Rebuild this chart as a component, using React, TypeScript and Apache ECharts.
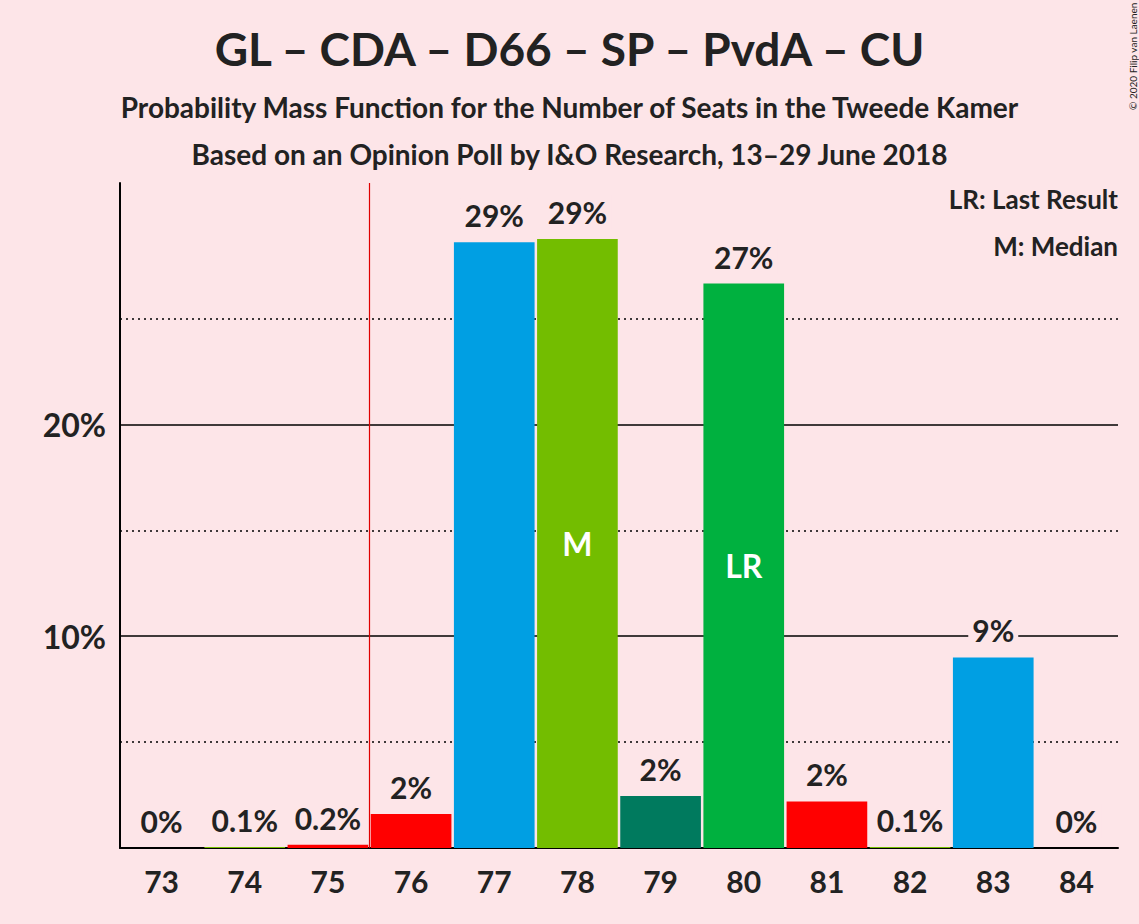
import React, { useEffect, useRef } from "react";
import * as echarts from "echarts";

const categories = ["73","74","75","76","77","78","79","80","81","82","83","84"];
const values = [0, 0.05, 0.15, 1.6, 28.6, 28.75, 2.45, 26.65, 2.2, 0.05, 9.0, 0];
const valueLabels = ["0%","0.1%","0.2%","2%","29%","29%","2%","27%","2%","0.1%","9%","0%"];
const colors = ["#009FE3","#73BD00","#FF0000","#FF0000","#009FE3","#73BD00","#007A5E","#00B13F","#FF0000","#73BD00","#009FE3","#009FE3"];
const innerLabels = ["","","","","","M","","LR","","","",""];
const majorLines = [10, 20];
const minorLines = [5, 15, 25];
const lastResultBoundary = 75.5;

export default function App() {
  const ref = useRef<HTMLDivElement>(null);
  useEffect(() => {
    const chart = echarts.init(ref.current!, null, { renderer: "svg" });
    const font = "Lato, 'Open Sans', sans-serif";
    chart.setOption({
      animation: false,
      backgroundColor: "#FDE5E8",
      textStyle: { fontFamily: font },
      title: [
        { text: "GL – CDA – D66 – SP – PvdA – CU", left: "center", top: 20, textStyle: { fontSize: 46, fontWeight: "bold", color: "#222", fontFamily: font } },
        { text: "Probability Mass Function for the Number of Seats in the Tweede Kamer", left: "center", top: 88, textStyle: { fontSize: 28, fontWeight: "bold", color: "#222", fontFamily: font } },
        { text: "Based on an Opinion Poll by I&O Research, 13–29 June 2018", left: "center", top: 135, textStyle: { fontSize: 28, fontWeight: "bold", color: "#222", fontFamily: font } },
      ],
      graphic: [
        { type: "text", right: 21, top: 186, style: { text: "LR: Last Result", font: `bold 26px ${font}`, fill: "#222" } },
        { type: "text", right: 21, top: 233, style: { text: "M: Median", font: `bold 26px ${font}`, fill: "#222" } },
        { type: "text", x: 1128, y: 110, rotation: Math.PI / 2, style: { text: "© 2020 Filip van Laenen", font: `10px ${font}`, fill: "#222" } },
      ],
      grid: { left: 120, right: 21, top: 183, bottom: 76 },
      xAxis: [
        { type: "category", data: categories, axisTick: { show: false },
          axisLine: { lineStyle: { color: "#000", width: 2 } },
          axisLabel: { fontSize: 30, fontWeight: "bold", color: "#222", margin: 18 } },
        { type: "value", min: 72.5, max: 84.5, show: false },
      ],
      yAxis: { type: "value", min: 0, max: 31.4, interval: 5, splitLine: { show: false },
        axisLine: { show: true, lineStyle: { color: "#000", width: 2 } }, axisTick: { show: false },
        axisLabel: { fontSize: 32, fontWeight: "bold", color: "#222", margin: 14,
          formatter: (v: number) => (majorLines.includes(v) ? v + "%" : "") } },
      series: [
        {
          type: "bar", barCategoryGap: "3%", z: 3,
          data: values.map((v, i) => ({ value: v, itemStyle: { color: colors[i] },
            label: innerLabels[i] ? { show: true, position: "inside", formatter: innerLabels[i], fontSize: 32, fontWeight: "bold", color: "#fff" } : { show: false } })),
          markLine: { silent: true, symbol: "none", label: { show: false }, z: 1,
            data: [
              ...majorLines.map((y) => ({ yAxis: y, lineStyle: { color: "#000", type: "solid", width: 1.5 } })),
              ...minorLines.map((y) => ({ yAxis: y, lineStyle: { color: "#000", type: [2, 4], width: 1.5 } })),
            ] },
        },
        {
          type: "bar", barGap: "-100%", barCategoryGap: "3%", z: 5, silent: true,
          itemStyle: { color: "transparent" },
          data: values,
          label: { show: true, position: "top", distance: 10, fontSize: 30, fontWeight: "bold", color: "#222",
            backgroundColor: "#FDE5E8", padding: [2, 4],
            formatter: (p: any) => valueLabels[p.dataIndex] },
        },
        {
          type: "line", xAxisIndex: 1, symbol: "none", z: 4,
          lineStyle: { color: "#E00000", width: 1.2 },
          data: [[lastResultBoundary, 0], [lastResultBoundary, 31.4]],
        },
      ],
    });
    return () => chart.dispose();
  }, []);
  return <div ref={ref} style={{ width: 1139, height: 924, position: "absolute", left: 0, top: 0 }} />;
}
